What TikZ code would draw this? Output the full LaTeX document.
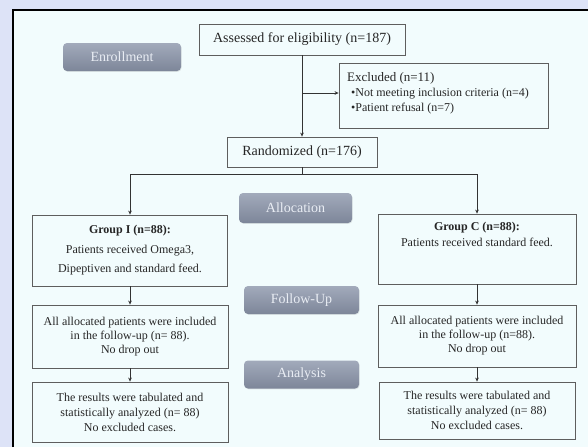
\documentclass[tikz,border=0pt]{standalone}
\usepackage{fontspec}
\setmainfont{Liberation Serif}
\usetikzlibrary{arrows.meta,shadows}
\definecolor{outerbg}{HTML}{DDE3F7}
\definecolor{innerbg}{HTML}{F2FCFD}
\definecolor{boxline}{HTML}{5E5E5E}
\definecolor{btntop}{HTML}{A2AABB}
\definecolor{btnbot}{HTML}{7D8699}
\definecolor{btntext}{HTML}{E9EDF4}
\tikzset{
  flowbox/.style={draw=boxline, line width=0.8pt, inner sep=0pt, align=center, font=\fontsize{12}{14}\selectfont, text=black!85},
  phasebtn/.style={rounded corners=4pt, top color=btntop, bottom color=btnbot, draw=none,
     drop shadow={opacity=0.18, shadow xshift=0.6pt, shadow yshift=-0.8pt},
     text=btntext, font=\fontsize{14}{16}\selectfont, inner sep=0pt},
  arr/.style={draw=black!80, line width=0.7pt, -{Stealth[length=4pt,width=3.6pt]}},
  ln/.style={draw=black!80, line width=0.7pt}
}
\begin{document}
\begin{tikzpicture}[x=1pt,y=-1pt]
\useasboundingbox (0,0) rectangle (588,447);
\fill[outerbg] (0,0) rectangle (588,447);
\fill[innerbg] (13,10) rectangle (588,447);
\draw[black, line width=1.6pt] (13,447) -- (13,10) -- (588,10);

% phase buttons
\node[phasebtn, minimum width=118pt, minimum height=28pt] (enr) at (122,57) {Enrollment};
\node[phasebtn, minimum width=113pt, minimum height=30pt] (alloc) at (295.5,208) {Allocation};
\node[phasebtn, minimum width=115pt, minimum height=28pt] (fup) at (301.5,300) {Follow-Up};
\node[phasebtn, minimum width=115pt, minimum height=28pt] (ana) at (301.5,374.5) {Analysis};

% boxes
\node[flowbox, minimum width=206pt, minimum height=31pt, font=\fontsize{14}{16}\selectfont] (assess) at (302,39.5) {Assessed for eligibility (n=187)};
\node[flowbox, minimum width=209pt, minimum height=65pt] (excl) at (443.5,95.5) {};
\node[anchor=west, inner sep=0pt, text=black!85, font=\fontsize{13}{15}\selectfont] (exclt) at (347,78) {Excluded (n=11)};
\node[anchor=west, inner sep=0pt, text=black!85, font=\fontsize{12}{14}\selectfont] (exclb1) at (351,94) {•Not meeting inclusion criteria (n=4)};
\node[anchor=west, inner sep=0pt, text=black!85, font=\fontsize{12}{14}\selectfont] (exclb2) at (351,109) {•Patient refusal (n=7)};
\node[flowbox, minimum width=150pt, minimum height=30pt, font=\fontsize{14}{16}\selectfont] (rand) at (302,152) {Randomized (n=176)};

\node[flowbox, minimum width=195pt, minimum height=71pt, font=\fontsize{12}{19.5}\selectfont] (g1) at (130,250.5)
  {\textbf{Group I (n=88):}\\Patients received Omega3,\\Dipeptiven and standard feed.};
\node[flowbox, minimum width=198pt, minimum height=70pt] (g2) at (477,249) {};
\node[anchor=north, inner sep=0pt, align=center, text=black!85, font=\fontsize{12}{16}\selectfont] (g2txt) at (477,222)
  {\textbf{Group C (n=88):}\\Patients received standard feed.};

\node[flowbox, minimum width=196pt, minimum height=63pt] (f1) at (130,336.5)
  {All allocated patients were included\\in the follow-up (n= 88).\\No drop out};
\node[flowbox, minimum width=198pt, minimum height=62pt] (f2) at (477,336)
  {All allocated patients were included\\in the follow-up (n=88).\\No drop out};

\node[flowbox, minimum width=196pt, minimum height=60pt, font=\fontsize{12}{15}\selectfont] (a1) at (130,412)
  {The results were tabulated and\\statistically analyzed (n= 88)\\No excluded cases.};
\node[flowbox, minimum width=196pt, minimum height=57pt, font=\fontsize{12}{15}\selectfont] (a2) at (477,410.5)
  {The results were tabulated and\\statistically analyzed (n= 88)\\No excluded cases.};

% connectors
\draw[arr] (assess.south) -- (rand.north);
\coordinate (br) at (302,93);
\draw[arr] (br) -- (br -| excl.west);
\draw[ln] (rand.south) -- ++(0,7) coordinate (split);
\draw[arr] (split) -| (g1.north);
\draw[arr] (split) -| (g2.north);
\draw[arr] (g1.south) -- (f1.north);
\draw[arr] (g2.south) -- (f2.north);
\draw[arr] (f1.south) -- (a1.north);
\draw[arr] (f2.south) -- (a2.north);
\end{tikzpicture}
\end{document}
